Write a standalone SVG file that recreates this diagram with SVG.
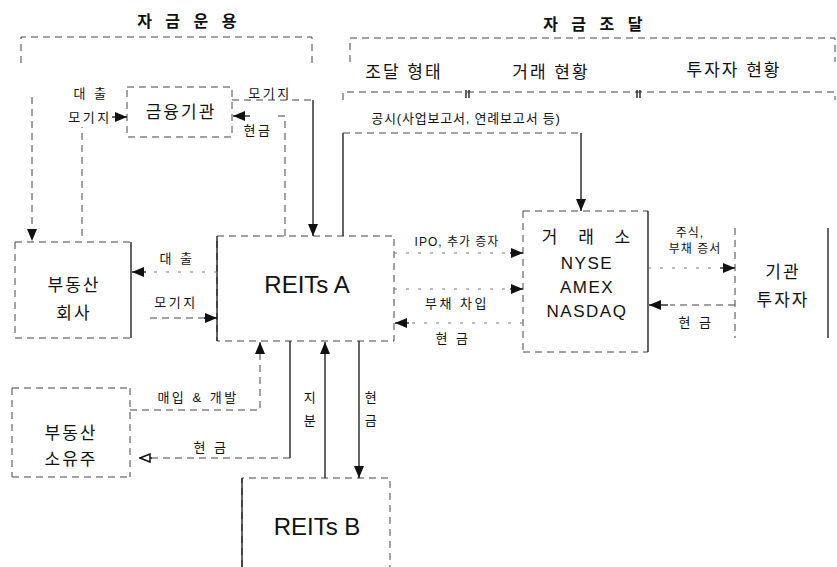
<svg xmlns="http://www.w3.org/2000/svg" width="837" height="567" viewBox="0 0 837 567">
<defs>
<style>
text{font-family:"Liberation Sans","Noto Sans CJK KR",sans-serif;fill:#111;text-anchor:middle;dominant-baseline:central}
.t{font-size:16px;font-weight:bold;letter-spacing:4.5px}
.h{font-size:17px;letter-spacing:2px}
.b{font-size:17px;letter-spacing:2px}
.l{font-size:13px;letter-spacing:2.5px}
.s{font-size:12px;letter-spacing:1px}
.p{font-size:13px;letter-spacing:0.8px}
.big{font-size:24px}
.ex{font-size:17px;letter-spacing:1.5px}
.solid{fill:none;stroke:#111;stroke-width:1.3}
.dash{fill:none;stroke:#444;stroke-width:1;stroke-dasharray:7 5}
.faint{fill:none;stroke:#777;stroke-width:1;stroke-dasharray:3 9}
</style>
<marker id="ah" markerWidth="12" markerHeight="10" refX="12" refY="5" orient="auto" markerUnits="userSpaceOnUse"><path d="M0,0 L12,5 L0,10 z" fill="#111"/></marker>
<marker id="ao" markerWidth="12" markerHeight="10" refX="11" refY="5" orient="auto" markerUnits="userSpaceOnUse"><path d="M1,1 L11,5 L1,9 z" fill="#fff" stroke="#111" stroke-width="1.5"/></marker>
</defs>
<rect width="837" height="567" fill="#fff"/>

<g id="sec-unyong">
<path class="dash" d="M21,63 V37 H312 V63"/>
<text class="t" x="189" y="21">자 금 운 용</text>
</g>

<g id="sec-jodal">
<path class="dash" d="M350,62 V38 H835 V62"/>
<text class="t" x="595" y="24">자 금 조 달</text>
<text class="h" x="404" y="72">조달 형태</text>
<text class="h" x="551" y="72">거래 현황</text>
<text class="h" x="734" y="70">투자자 현황</text>
<path class="dash" d="M343,100 V92 H835 V100"/>
<path class="solid" d="M466,90 V98 M469,90 V98 M637,90 V98 M640,90 V98"/>
</g>

<g id="n-geumyung">
<rect class="dash" x="127" y="87" width="105" height="50"/>
<text class="b" x="181" y="112">금융기관</text>
</g>

<g id="n-budongsan-hoesa">
<path class="dash" d="M15,242 V338 M15,242 H131 M15,338 H131"/>
<path class="solid" d="M131,242 V338"/>
<text class="b" x="74" y="285">부동산</text>
<text class="b" x="74" y="313">회사</text>
</g>

<g id="n-reits-a">
<rect class="dash" x="217" y="236" width="177" height="105"/>
<path class="solid" d="M217,236 V341"/>
<text class="big" x="307" y="284">REITs A</text>
</g>

<g id="n-budongsan-soyuju">
<path class="dash" d="M12,388 V477 M12,388 H130 M12,477 H130 M130,388 V477"/>
<text class="b" x="71" y="433">부동산</text>
<text class="b" x="71" y="459">소유주</text>
</g>

<g id="n-reits-b">
<path class="dash" d="M242,567 V478 H390 V567"/>
<path class="solid" d="M242,478 V567"/>
<text class="big" x="317" y="526">REITs B</text>
</g>

<g id="n-georaeso">
<path class="dash" d="M523,211 H648 M523,352 H648 M523,211 V352"/>
<path class="solid" d="M648,211 V352"/>
<text class="b" x="590" y="237" style="letter-spacing:8px">거 래 소</text>
<text class="ex" x="587" y="263">NYSE</text>
<text class="ex" x="587" y="287">AMEX</text>
<text class="ex" x="587" y="311">NASDAQ</text>
</g>

<g id="n-gigwan">
<path class="dash" d="M735,228 V338"/>
<path class="solid" d="M828,228 V338"/>
<text class="b" x="783" y="272">기관</text>
<text class="b" x="783" y="300">투자자</text>
</g>

<g id="connectors">
<path class="dash" d="M32,97 V241" marker-end="url(#ah)"/>
<path class="dash" d="M82,236 V127"/>
<path class="solid" d="M112,117 H127" marker-end="url(#ah)"/>
<path class="dash" d="M232,100 H313"/>
<path class="solid" d="M313,100 V236" marker-end="url(#ah)"/>
<path class="dash" d="M285,236 V116 H275"/>
<path class="solid" d="M250,116 H233" marker-end="url(#ah)"/>
<path class="solid" d="M343,236 V133"/>
<path class="dash" d="M343,133 H581"/>
<path class="solid" d="M581,133 V211" marker-end="url(#ah)"/>
<path class="faint" d="M217,272 H150"/>
<path class="solid" d="M146,272 H132" marker-end="url(#ah)"/>
<path class="dash" d="M150,318 H205"/>
<path class="solid" d="M204,318 H217" marker-end="url(#ah)"/>
<path class="faint" d="M394,253 H510"/>
<path class="solid" d="M510,253 H523" marker-end="url(#ah)"/>
<path class="faint" d="M394,289 H510"/>
<path class="solid" d="M510,289 H523" marker-end="url(#ah)"/>
<path class="faint" d="M523,323 H410"/>
<path class="solid" d="M409,323 H395" marker-end="url(#ah)"/>
<path class="faint" d="M648,268 H720"/>
<path class="solid" d="M720,268 H735" marker-end="url(#ah)"/>
<path class="dash" d="M735,305 H670"/>
<path class="solid" d="M668,305 H649" marker-end="url(#ah)"/>
<path class="dash" d="M130,410 H260 V342" marker-end="url(#ah)"/>
<path class="solid" d="M290,341 V458"/>
<path class="dash" d="M290,458 H150"/>
<path class="solid" d="M152,458 H140" marker-end="url(#ao)"/>
<path class="solid" d="M325,478 V342" marker-end="url(#ah)"/>
<path class="solid" d="M359,341 V478" marker-end="url(#ah)"/>
</g>

<g id="labels">
<text class="l" x="91" y="93">대 출</text>
<text class="l" x="90" y="117">모기지</text>
<text class="l" x="270" y="93">모기지</text>
<text class="l" x="258" y="130">현금</text>
<text class="p" x="466" y="118">공시(사업보고서, 연례보고서 등)</text>
<text class="l" x="177" y="258">대 출</text>
<text class="l" x="176" y="302">모기지</text>
<text class="s" x="457" y="242">IPO, 추가 증자</text>
<text class="l" x="457" y="303">부채 차입</text>
<text class="l" x="453" y="338">현 금</text>
<text class="s" x="690" y="233">주식,</text>
<text class="s" x="695" y="249">부채 증서</text>
<text class="l" x="696" y="322">현 금</text>
<text class="l" x="198" y="397">매입 &amp; 개발</text>
<text class="l" x="211" y="447">현 금</text>
<text class="l" x="311" y="397">지</text>
<text class="l" x="311" y="420">분</text>
<text class="l" x="372" y="397">현</text>
<text class="l" x="372" y="420">금</text>
</g>
</svg>
